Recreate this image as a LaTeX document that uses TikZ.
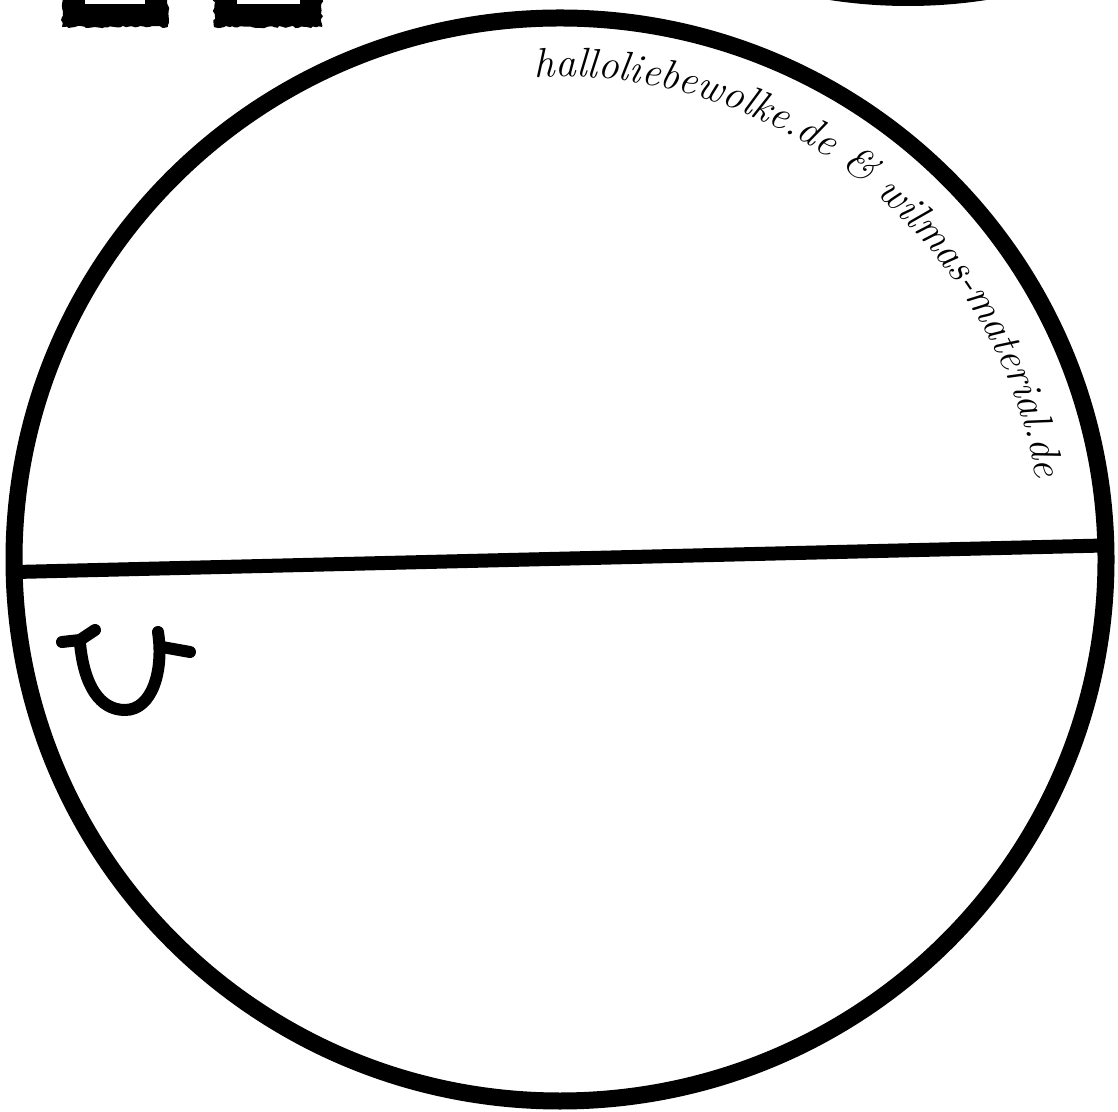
\documentclass[tikz,border=0pt]{standalone}
\usetikzlibrary{decorations.text,decorations.pathmorphing}
\tikzset{
  ring/.style={line width=17pt, draw=black},
  divider/.style={line width=14pt, draw=black, line cap=butt},
  glyph/.style={line width=12pt, draw=black, line cap=round, line join=round},
  roughfill/.style={fill=black, decorate, decoration={random steps, segment length=3pt, amplitude=1.2pt}},
}
\begin{document}
\begin{tikzpicture}[x=1pt,y=1pt]
\useasboundingbox (0,0) rectangle (1118,1111);
\clip (0,0) rectangle (1118,1111);
\fill[white] (0,0) rectangle (1118,1111);
% cut-off shapes at the top
\path[roughfill] (62,1084) rectangle (168,1125);
\fill[white] (85,1107) rectangle (145,1125);
\path[roughfill] (214,1084) rectangle (322,1125);
\fill[white] (237,1107) rectangle (300,1125);
\fill[black] (908,1615) circle[radius=510];
% main ring
\draw[ring] (560,551.5) ellipse[x radius=546, y radius=541.5];
% divider
\draw[divider] (16,539) -- (1104,565.5);
% small glyph
\draw[glyph] (62,469) -- (80,471) -- (95,481);
\draw[glyph] (80,468) .. controls (84,425) and (100,401) .. (125,401) .. controls (152,401) and (164,440) .. (158,479);
\draw[glyph] (162,464) -- (190,459);
% curved text
\path[decorate, decoration={text along path, text align=left,
  text={|\fontsize{41.5}{49}\selectfont\itshape|halloliebewolke.de {\&} wilmas-material.de}}]
  (560,551.5) ++(93:483) arc[start angle=93, end angle=5, radius=483];
\end{tikzpicture}
\end{document}
